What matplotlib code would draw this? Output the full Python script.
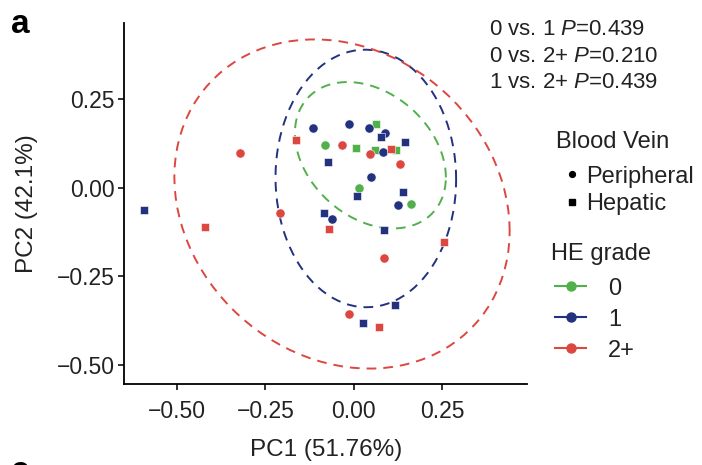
import numpy as np
import matplotlib
matplotlib.use("Agg")
import matplotlib.pyplot as plt
from matplotlib.lines import Line2D

plt.rcParams['font.family'] = ['Liberation Sans', 'DejaVu Sans']
plt.rcParams['mathtext.fontset'] = 'custom'
plt.rcParams['mathtext.rm'] = 'Liberation Sans'
plt.rcParams['mathtext.it'] = 'Liberation Sans:italic'

# ---------------- data (PC1, PC2) ----------------
grades = ["0", "1", "2+"]
colors = {"0": "#52B04A", "1": "#22327F", "2+": "#DC4740"}

g0_periph_x = [-0.082, 0.015, 0.162]
g0_periph_y = [0.121, -0.002, -0.046]
g0_hepat_x = [0.005, 0.062, 0.059, 0.119]
g0_hepat_y = [0.113, 0.180, 0.107, 0.107]

g1_periph_x = [-0.115, -0.013, 0.043, 0.089, 0.081, 0.047, 0.124, -0.063]
g1_periph_y = [0.168, 0.179, 0.170, 0.154, 0.100, 0.031, -0.048, -0.089]
g1_hepat_x = [-0.073, 0.009, -0.592, 0.076, 0.145, 0.138, -0.084, 0.086, 0.026, 0.116]
g1_hepat_y = [0.074, -0.023, -0.063, 0.144, 0.129, -0.012, -0.071, -0.120, -0.382, -0.332]

g2_periph_x = [-0.322, -0.033, 0.045, 0.130, -0.209, -0.015, 0.085]
g2_periph_y = [0.097, 0.121, 0.095, 0.067, -0.072, -0.358, -0.198]
g2_hepat_x = [-0.165, 0.105, -0.421, -0.071, 0.255, 0.071]
g2_hepat_y = [0.135, 0.109, -0.112, -0.116, -0.154, -0.395]

pvalue_labels = ["0 vs. 1", "0 vs. 2+", "1 vs. 2+"]
pvalues = ["0.439", "0.210", "0.439"]

xticks = [-0.50, -0.25, 0.00, 0.25]
yticks = [-0.50, -0.25, 0.00, 0.25]

series = {
    "0": (g0_periph_x, g0_periph_y, g0_hepat_x, g0_hepat_y),
    "1": (g1_periph_x, g1_periph_y, g1_hepat_x, g1_hepat_y),
    "2+": (g2_periph_x, g2_periph_y, g2_hepat_x, g2_hepat_y),
}


def cov_trob(x, nu=5, maxit=25, tol=0.01):
    n, p = x.shape
    wt = np.ones(n)
    loc = x.mean(axis=0)
    w = np.sqrt(wt)
    X = x - loc
    for _ in range(maxit):
        w0 = w
        X = x - loc
        _, d, vt = np.linalg.svd(np.sqrt(w / w.sum())[:, None] * X, full_matrices=False)
        wX = X @ vt.T @ np.diag(1.0 / d)
        Q = (wX ** 2).sum(axis=1)
        w = (wt * (nu + p)) / (nu + Q)
        loc = (w[:, None] * x).sum(axis=0) / w.sum()
        if np.all(np.abs(w - w0) < tol):
            break
    cov = (np.sqrt(w)[:, None] * X).T @ (np.sqrt(w)[:, None] * X) / wt.sum()
    return loc, cov


def t_ellipse(xs, ys, level=0.95, segments=101):
    pts = np.column_stack([xs, ys])
    n = len(pts)
    center, cov = cov_trob(pts)
    dfd = n - 1
    qf = dfd / 2.0 * ((1 - level) ** (-2.0 / dfd) - 1)
    radius = np.sqrt(2 * qf)
    R = np.linalg.cholesky(cov).T
    ang = np.linspace(0, 2 * np.pi, segments)
    circ = np.column_stack([np.cos(ang), np.sin(ang)])
    ell = center + radius * circ @ R
    return ell[:, 0], ell[:, 1]


W, H = 702, 465
fig = plt.figure(figsize=(W / 100, H / 100), dpi=100)
L, R_, T, B = 124.3, 527.3, 22.7, 384.3
ax = fig.add_axes([L / W, 1 - B / H, (R_ - L) / W, (B - T) / H])

for g in grades:
    px, py, hx, hy = series[g]
    ex, ey = t_ellipse(px + hx, py + hy)
    ax.plot(ex, ey, color=colors[g], lw=1.4, ls=(0, (5, 3.6)), zorder=2)

for g in grades:
    px, py, hx, hy = series[g]
    ax.plot(px, py, ls="none", marker="o", ms=6.6, mfc=colors[g], mec="white", mew=0.4, zorder=3)
    ax.plot(hx, hy, ls="none", marker="s", ms=6.0, mfc=colors[g], mec="white", mew=0.4, zorder=3)

ax.set_xlim(-0.649, 0.49)
ax.set_ylim(-0.556, 0.467)
ax.set_xticks(xticks)
ax.set_yticks(yticks)
ax.set_xticklabels([f"{v:.2f}".replace("-", "\u2212") for v in xticks])
ax.set_yticklabels([f"{v:.2f}".replace("-", "\u2212") for v in yticks])
for s in ["top", "right"]:
    ax.spines[s].set_visible(False)
for s in ["left", "bottom"]:
    ax.spines[s].set_linewidth(1.3)
ax.tick_params(axis="both", length=4, width=1.3, labelsize=16.5, color="#222222", labelcolor="#222222", pad=3)
ax.tick_params(axis="x", pad=7.5)
ax.set_xlabel("PC1 (51.76%)", fontsize=17.5, color="#222222", labelpad=11.5)
ax.set_ylabel("PC2 (42.1%)", fontsize=17.5, color="#222222", labelpad=13.5)


def fx(px):
    return px / W


def fy(py):
    return 1 - py / H


# panel letters
fig.text(fx(11), fy(33), "a", fontsize=24, fontweight="bold", va="baseline", ha="left")
fig.text(fx(11), fy(456), "c", fontsize=24, fontweight="bold", va="top", ha="left")

# p-value annotations
for i, (lab, pv) in enumerate(zip(pvalue_labels, pvalues)):
    fig.text(fx(489), fy(35 + 26.7 * i), f"{lab} $P$={pv}", fontsize=16, va="baseline", ha="left",
             color="#222222")

# legend: Blood Vein
fig.text(fx(556), fy(148.5), "Blood Vein", fontsize=17, va="baseline", ha="left", color="#222222")
fig.add_artist(Line2D([fx(571.7)], [fy(174)], marker="o", ms=4.2, color="black", ls="none",
                      transform=fig.transFigure))
fig.text(fx(586), fy(182.5), "Peripheral", fontsize=17, va="baseline", ha="left", color="#222222")
fig.add_artist(Line2D([fx(571.7)], [fy(201.7)], marker="s", ms=3.8, color="black", ls="none",
                      transform=fig.transFigure))
fig.text(fx(586), fy(209.5), "Hepatic", fontsize=17, va="baseline", ha="left", color="#222222")

# legend: HE grade
fig.text(fx(551), fy(259.5), "HE grade", fontsize=17, va="baseline", ha="left", color="#222222")
for i, g in enumerate(grades):
    yc = 285.7 + 31 * i
    fig.add_artist(Line2D([fx(555), fx(585.7)], [fy(yc), fy(yc)], color=colors[g], lw=1.5,
                          transform=fig.transFigure))
    fig.add_artist(Line2D([fx(570.5)], [fy(yc)], marker="o", ms=6.5, color=colors[g], ls="none",
                          transform=fig.transFigure))
    fig.text(fx(608), fy(yc + 9.3), g, fontsize=17, va="baseline", ha="left", color="#222222")

fig.savefig("out.png", dpi=100)
